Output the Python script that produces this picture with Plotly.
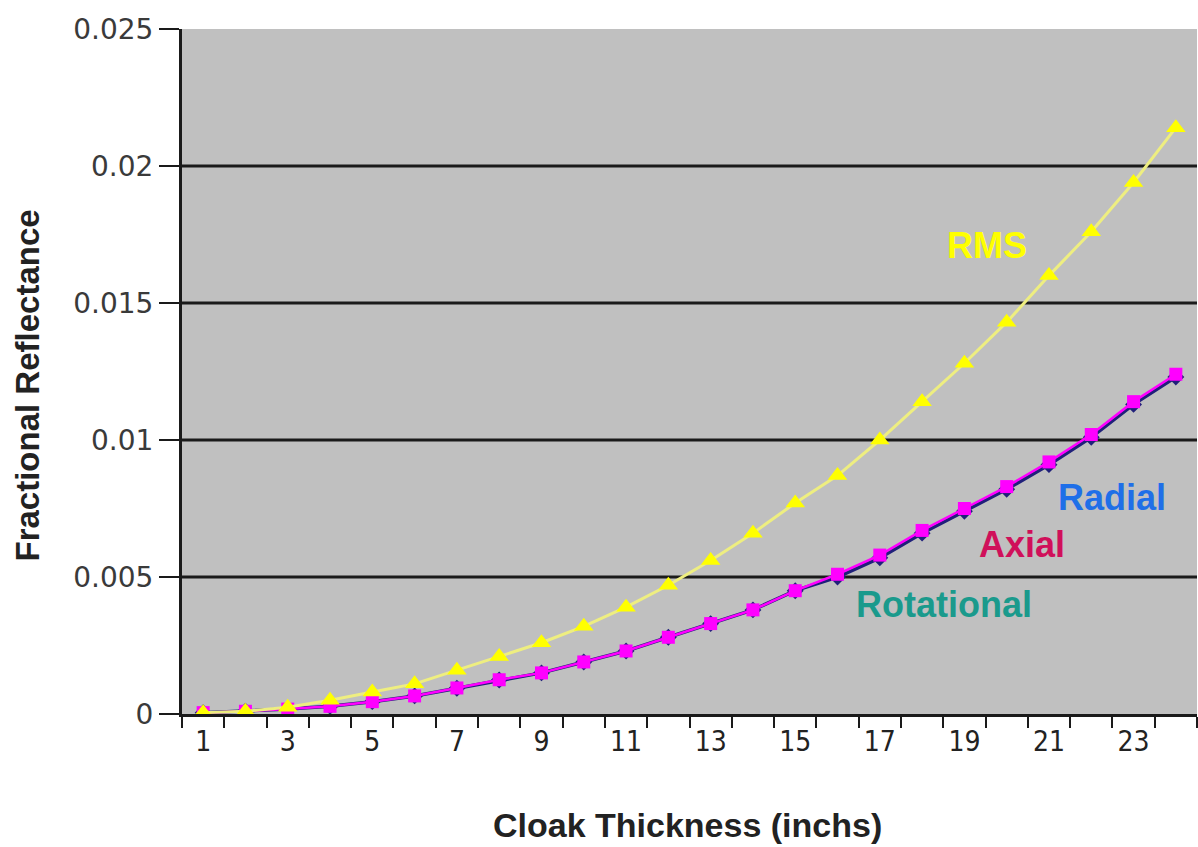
import plotly.graph_objects as go

# Cloak thickness in inches (category positions 1..24)
thickness = list(range(1, 25))

# Fractional reflectance per component
radial = [0.00005, 0.0001, 0.00018, 0.00028, 0.00045, 0.00066, 0.00094, 0.00124,
          0.0015, 0.0019, 0.0023, 0.0028, 0.0033, 0.0038, 0.0045, 0.0050,
          0.0057, 0.0066, 0.0074, 0.0082, 0.0091, 0.0101, 0.0113, 0.0123]
axial = [0.00005, 0.0001, 0.00018, 0.00028, 0.00045, 0.00066, 0.00095, 0.00125,
         0.0015, 0.0019, 0.0023, 0.0028, 0.0033, 0.0038, 0.0045, 0.0051,
         0.0058, 0.0067, 0.0075, 0.0083, 0.0092, 0.0102, 0.0114, 0.0124]
rotational = [0.00005, 0.0001, 0.00018, 0.00028, 0.00045, 0.00066, 0.00094, 0.00124,
              0.0015, 0.0019, 0.0023, 0.0028, 0.0033, 0.0038, 0.0045, 0.0050,
              0.0057, 0.0066, 0.0074, 0.0082, 0.0091, 0.0101, 0.0113, 0.0123]
rms = [0.00005, 0.0001, 0.00025, 0.0005, 0.0008, 0.0011, 0.0016, 0.0021,
       0.0026, 0.0032, 0.0039, 0.0047, 0.0056, 0.0066, 0.0077, 0.0087,
       0.0100, 0.0114, 0.0128, 0.0143, 0.0160, 0.0176, 0.0194, 0.0214]

x_tick_vals = list(range(1, 24, 2))
y_tick_vals = [0, 0.005, 0.01, 0.015, 0.02, 0.025]
y_tick_text = ["0", "0.005", "0.01", "0.015", "0.02", "0.025"]
y_grid_vals = [0.005, 0.01, 0.015, 0.02]

# Series labels placed beside the curves: (text, x, y, colour)
labels = [
    ("RMS", 19.53, 0.0171, "#ffff00"),
    ("Radial", 22.5, 0.0079, "#1f6fe8"),
    ("Axial", 20.36, 0.0062, "#d0105a"),
    ("Rotational", 18.52, 0.0040, "#1a9a8c"),
]

ARIAL = "Liberation Sans, Arial, sans-serif"

fig = go.Figure()

fig.add_trace(go.Scatter(
    x=thickness, y=rotational, mode="lines+markers", name="Rotational",
    line=dict(color="#1a9a8c", width=2),
    marker=dict(symbol="x", size=9, color="#1a9a8c"),
))
fig.add_trace(go.Scatter(
    x=thickness, y=radial, mode="lines+markers", name="Radial",
    line=dict(color="#20207a", width=3.5),
    marker=dict(symbol="diamond", size=13, color="#20207a"),
))
fig.add_trace(go.Scatter(
    x=thickness, y=axial, mode="lines+markers", name="Axial",
    line=dict(color="#ff00ff", width=2.5),
    marker=dict(symbol="square", size=13, color="#ff00ff"),
))
fig.add_trace(go.Scatter(
    x=thickness, y=rms, mode="lines+markers", name="RMS",
    line=dict(color="#eeee80", width=3),
    marker=dict(symbol="triangle-up", size=17, color="#ffff00"),
))

for yv in y_grid_vals:
    fig.add_shape(type="line", xref="paper", yref="y", x0=0, x1=1, y0=yv, y1=yv,
                  line=dict(color="#1a1a1a", width=3), layer="below")

for text, lx, ly, col in labels:
    fig.add_annotation(x=lx, y=ly, xref="x", yref="y", text=text, showarrow=False,
                       font=dict(family=ARIAL, size=36, color=col, weight="bold"))

# Axis titles
fig.add_annotation(text="Fractional Reflectance", xref="paper", yref="paper",
                   x=0, y=0.5, xshift=-155, yshift=-14, xanchor="center",
                   textangle=-90, showarrow=False,
                   font=dict(family=ARIAL, size=33, color="#222222", weight="bold"))
fig.add_annotation(text="Cloak Thickness (inchs)", xref="paper", yref="paper",
                   x=0.5, y=0, yshift=-111, xshift=-2, yanchor="middle",
                   showarrow=False,
                   font=dict(family=ARIAL, size=34, color="#222222", weight="bold"))

fig.update_layout(
    width=1198, height=847,
    margin=dict(l=182, r=1, t=29, b=133),
    paper_bgcolor="white",
    plot_bgcolor="#c0c0c0",
    showlegend=False,
    font=dict(family=ARIAL, color="#333333"),
)

fig.update_xaxes(
    range=[0.5, 24.5],
    tickvals=x_tick_vals,
    ticktext=[str(v) for v in x_tick_vals],
    ticks="",
    tickfont=dict(family="Liberation Sans Narrow, Arial Narrow, DejaVu Sans Condensed, sans-serif",
                  size=28, color="#222222"),
    minor=dict(ticks="outside", tick0=0.5, dtick=1, ticklen=11, tickwidth=2,
               tickcolor="#1a1a1a", showgrid=False),
    showgrid=False, zeroline=False,
    showline=True, linecolor="#1a1a1a", linewidth=3,
)

fig.update_yaxes(
    range=[0, 0.025],
    tickvals=y_tick_vals,
    ticktext=y_tick_text,
    ticks="outside", ticklen=20, tickwidth=2, tickcolor="#1a1a1a",
    tickfont=dict(family="DejaVu Sans, sans-serif", size=28, color="#3a3a3a"),
    showgrid=False, zeroline=False,
    showline=True, linecolor="#1a1a1a", linewidth=3,
)

fig.write_html("out.html")
